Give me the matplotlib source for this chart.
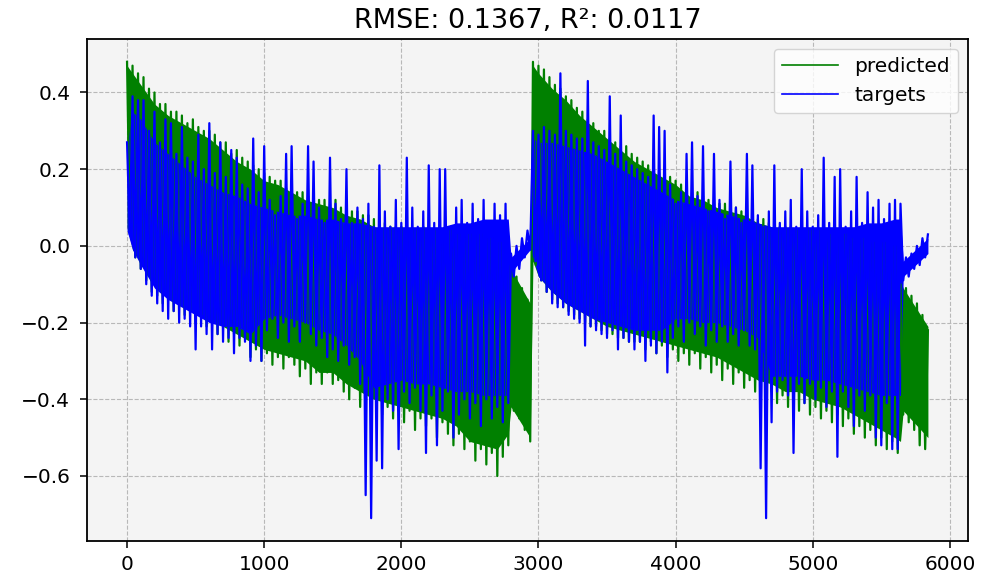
import numpy as np
import matplotlib
matplotlib.use("Agg")
import matplotlib.pyplot as plt

# values: alternating local highs / lows, one value every 20 samples
predicted = [
    # first cycle, samples 0-2940
    0.48, 0.04, 0.47, -0.03, 0.45, -0.06, 0.44, -0.09, 0.41, -0.12,
    0.40, -0.13, 0.37, -0.15, 0.37, -0.14, 0.35, -0.17, 0.35, -0.16,
    0.34, -0.18, 0.32, -0.17, 0.33, -0.20, 0.31, -0.18, 0.30, -0.21,
    0.30, -0.20, 0.29, -0.23, 0.27, -0.21, 0.27, -0.25, 0.24, -0.23,
    0.25, -0.26, 0.23, -0.24, 0.22, -0.29, 0.21, -0.27, 0.20, -0.30,
    0.19, -0.28, 0.18, -0.31, 0.17, -0.29, 0.17, -0.32, 0.15, -0.29,
    0.16, -0.31, 0.14, -0.34, 0.14, -0.32, 0.13, -0.36, 0.13, -0.33,
    0.12, -0.36, 0.12, -0.33, 0.11, -0.36, 0.12, -0.35, 0.10, -0.38,
    0.10, -0.40, 0.09, -0.37, 0.09, -0.42, 0.08, -0.39, 0.08, -0.43,
    0.07, -0.41, 0.06, -0.44, 0.06, -0.42, 0.05, -0.45, 0.05, -0.43,
    0.05, -0.46, 0.05, -0.43, 0.04, -0.48, 0.04, -0.45, 0.05, -0.47,
    0.04, -0.45, 0.04, -0.50, 0.04, -0.46, 0.03, -0.49, 0.04, -0.52,
    0.03, -0.49, 0.03, -0.53, 0.03, -0.51, 0.03, -0.56, 0.03, -0.53,
    0.03, -0.57, 0.02, -0.54, 0.02, -0.60, 0.01, -0.55, 0.00, -0.52,
    -0.05, -0.43, -0.08, -0.45, -0.11, -0.48, -0.14, -0.51,
    # second cycle, samples 2960-5840
    0.48, -0.05, 0.47, -0.09, 0.46, -0.12, 0.44, -0.14, 0.42, -0.15,
    0.41, -0.16, 0.39, -0.17, 0.38, -0.18, 0.36, -0.19, 0.35, -0.20,
    0.33, -0.21, 0.32, -0.21, 0.30, -0.22, 0.30, -0.23, 0.28, -0.23,
    0.27, -0.24, 0.26, -0.24, 0.26, -0.25, 0.24, -0.25, 0.23, -0.25,
    0.22, -0.27, 0.21, -0.25, 0.20, -0.28, 0.19, -0.26, 0.19, -0.29,
    0.18, -0.27, 0.17, -0.30, 0.16, -0.28, 0.15, -0.31, 0.14, -0.28,
    0.14, -0.32, 0.13, -0.29, 0.12, -0.33, 0.12, -0.31, 0.11, -0.35,
    0.11, -0.32, 0.10, -0.36, 0.10, -0.33, 0.09, -0.37, 0.09, -0.35,
    0.08, -0.38, 0.07, -0.36, 0.07, -0.40, 0.06, -0.38, 0.06, -0.41,
    0.05, -0.39, 0.05, -0.42, 0.05, -0.40, 0.04, -0.43, 0.04, -0.41,
    0.04, -0.44, 0.04, -0.42, 0.04, -0.45, 0.03, -0.43, 0.03, -0.46,
    0.03, -0.44, 0.03, -0.47, 0.03, -0.45, 0.02, -0.49, 0.02, -0.47,
    0.02, -0.50, 0.02, -0.48, 0.01, -0.52, 0.01, -0.50, 0.01, -0.53,
    0.01, -0.51, 0.00, -0.54, -0.10, -0.44, -0.11, -0.46, -0.13, -0.48,
    -0.15, -0.52, -0.18, -0.53, -0.22,
]

targets = [
    # first cycle, samples 0-2940
    0.27, 0.03, 0.39, -0.03, 0.38, -0.06, 0.38, -0.10, 0.30, -0.13,
    0.35, -0.15, 0.27, -0.17, 0.33, -0.19, 0.32, -0.17, 0.24, -0.20,
    0.31, -0.19, 0.23, -0.21, 0.22, -0.27, 0.29, -0.21, 0.20, -0.23,
    0.32, -0.27, 0.19, -0.23, 0.27, -0.25, 0.18, -0.24, 0.25, -0.28,
    0.23, -0.24, 0.16, -0.25, 0.15, -0.30, 0.28, -0.26, 0.14, -0.30,
    0.26, -0.22, 0.12, -0.19, 0.08, -0.24, 0.13, -0.20, 0.24, -0.25,
    0.26, -0.21, 0.07, -0.25, 0.11, -0.20, 0.26, -0.23, 0.22, -0.26,
    0.10, -0.24, 0.06, -0.29, 0.23, -0.27, 0.11, -0.30, 0.07, -0.26,
    0.20, -0.31, 0.06, -0.29, 0.10, -0.36, 0.07, -0.65, 0.11, -0.71,
    0.05, -0.56, 0.21, -0.58, 0.09, -0.40, 0.05, -0.43, 0.12, -0.53,
    0.06, -0.38, 0.23, -0.41, 0.10, -0.37, 0.05, -0.43, 0.09, -0.54,
    0.21, -0.39, 0.06, -0.52, 0.20, -0.43, 0.20, -0.38, 0.05, -0.50,
    0.10, -0.44, 0.12, -0.40, 0.06, -0.45, 0.11, -0.41, 0.07, -0.47,
    0.12, -0.40, 0.06, -0.45, 0.11, -0.42, 0.08, -0.46, 0.11, -0.41,
    -0.02, -0.08, 0.00, -0.06, 0.02, -0.03, 0.04, -0.01,
    # second cycle, samples 2960-5840
    0.30, -0.04, 0.29, -0.09, 0.31, -0.12, 0.30, -0.15, 0.29, -0.16,
    0.45, -0.16, 0.30, -0.18, 0.29, -0.19, 0.28, -0.20, 0.28, -0.26,
    0.43, -0.21, 0.27, -0.22, 0.26, -0.23, 0.25, -0.24, 0.39, -0.22,
    0.24, -0.27, 0.34, -0.24, 0.22, -0.25, 0.21, -0.27, 0.20, -0.25,
    0.19, -0.30, 0.18, -0.26, 0.34, -0.28, 0.31, -0.25, 0.30, -0.33,
    0.16, -0.24, 0.11, -0.21, 0.14, -0.25, 0.24, -0.20, 0.27, -0.23,
    0.13, -0.21, 0.26, -0.26, 0.09, -0.22, 0.24, -0.25, 0.12, -0.21,
    0.07, -0.25, 0.22, -0.23, 0.10, -0.26, 0.06, -0.22, 0.24, -0.26,
    0.21, -0.27, 0.08, -0.58, 0.05, -0.71, 0.09, -0.46, 0.21, -0.38,
    0.06, -0.35, 0.09, -0.39, 0.12, -0.54, 0.05, -0.36, 0.20, -0.41,
    0.09, -0.36, 0.05, -0.40, 0.08, -0.37, 0.23, -0.42, 0.06, -0.38,
    0.18, -0.55, 0.20, -0.38, 0.05, -0.42, 0.09, -0.47, 0.18, -0.39,
    0.06, -0.43, 0.14, -0.39, 0.10, -0.50, 0.12, -0.52, 0.07, -0.41,
    0.11, -0.53, 0.12, -0.53, 0.11, -0.09, -0.03, -0.08, -0.02, -0.06,
    0.00, -0.05, 0.02, -0.03, 0.03,
]

# solid core of each trace (between the ragged edges), read at these samples
env_idx = [0, 40, 100, 200, 300, 400, 500, 600, 700, 800, 900, 1000, 1100, 1200,
           1300, 1400, 1500, 1600, 1700, 1800, 1900, 2000, 2100, 2200, 2300, 2400,
           2500, 2600, 2700, 2780, 2800, 2940,
           2960, 3000, 3100, 3200, 3300, 3400, 3500, 3600, 3700, 3800, 3900, 4000,
           4100, 4200, 4300, 4400, 4500, 4600, 4700, 4800, 4900, 5000, 5100, 5200,
           5300, 5400, 5500, 5600, 5640, 5660, 5840]

pred_top = [0.47, 0.45, 0.42, 0.37, 0.34, 0.32, 0.30, 0.28, 0.25, 0.22, 0.20, 0.17, 0.16, 0.14,
            0.12, 0.11, 0.10, 0.08, 0.07, 0.05, 0.04, 0.03, 0.03, 0.02, 0.02, 0.02,
            0.01, 0.01, 0.00, -0.01, -0.06, -0.15,
            0.47, 0.45, 0.41, 0.38, 0.34, 0.31, 0.28, 0.25, 0.22, 0.20, 0.18, 0.16,
            0.13, 0.12, 0.10, 0.09, 0.08, 0.06, 0.05, 0.04, 0.03, 0.03, 0.02, 0.02,
            0.01, 0.01, 0.00, -0.01, -0.09, -0.11, -0.21]
pred_bot = [0.05, -0.01, -0.04, -0.10, -0.13, -0.15, -0.17, -0.19, -0.21, -0.23, -0.25, -0.27, -0.28, -0.29,
            -0.30, -0.33, -0.33, -0.36, -0.38, -0.40, -0.41, -0.42, -0.43, -0.44, -0.45, -0.47,
            -0.51, -0.52, -0.53, -0.49, -0.42, -0.50,
            -0.04, -0.08, -0.12, -0.15, -0.17, -0.19, -0.21, -0.22, -0.23, -0.24, -0.25, -0.26,
            -0.27, -0.28, -0.29, -0.31, -0.33, -0.35, -0.36, -0.38, -0.38, -0.40, -0.41, -0.42,
            -0.44, -0.46, -0.48, -0.50, -0.51, -0.43, -0.50]
tgt_top = [0.26, 0.35, 0.33, 0.27, 0.24, 0.21, 0.18, 0.16, 0.14, 0.13, 0.11, 0.10, 0.09, 0.08,
           0.08, 0.07, 0.07, 0.06, 0.06, 0.05, 0.05, 0.05, 0.05, 0.05, 0.05, 0.06,
           0.06, 0.07, 0.07, 0.07, -0.03, 0.02,
           0.28, 0.27, 0.27, 0.26, 0.25, 0.24, 0.22, 0.20, 0.18, 0.16, 0.14, 0.12,
           0.11, 0.10, 0.09, 0.08, 0.07, 0.06, 0.05, 0.05, 0.05, 0.05, 0.05, 0.05,
           0.05, 0.06, 0.06, 0.07, 0.07, -0.04, 0.02]
tgt_bot = [0.04, -0.01, -0.05, -0.11, -0.14, -0.16, -0.18, -0.20, -0.21, -0.21, -0.23, -0.19, -0.18, -0.19,
           -0.20, -0.22, -0.23, -0.26, -0.30, -0.37, -0.36, -0.35, -0.36, -0.36, -0.37, -0.38,
           -0.38, -0.39, -0.39, -0.39, -0.07, -0.01,
           -0.03, -0.08, -0.12, -0.15, -0.17, -0.19, -0.20, -0.21, -0.22, -0.22, -0.22, -0.19,
           -0.19, -0.20, -0.20, -0.21, -0.22, -0.24, -0.34, -0.34, -0.34, -0.35, -0.35, -0.36,
           -0.37, -0.38, -0.39, -0.39, -0.39, -0.08, -0.02]

rmse = 0.1367
r2 = 0.0117
step = 20  # samples between read values

x = np.arange(len(predicted)) * step

fig = plt.figure(figsize=(9.82, 5.76), dpi=100)
ax = fig.add_axes([0.0886, 0.0608, 0.8971, 0.8715])
ax.set_facecolor('#f4f4f4')
ax.set_axisbelow(True)

ax.fill_between(env_idx, pred_bot, pred_top, color='green', linewidth=0)
ax.plot(x, predicted, color='green', linewidth=1.6, label='predicted')
ax.fill_between(env_idx, tgt_bot, tgt_top, color='blue', linewidth=0)
ax.plot(x, targets, color='blue', linewidth=1.6, label='targets')

ax.set_title(f'RMSE: {rmse}, R²: {r2}', fontsize=19.5, pad=8)
ax.set_xticks(np.arange(0, 7000, 1000))
ax.set_yticks([-0.6, -0.4, -0.2, 0.0, 0.2, 0.4])
ax.tick_params(labelsize=14.5, length=5, width=1.1)
ax.tick_params(axis='y', pad=7)
ax.tick_params(axis='x', pad=5)
for s in ax.spines.values():
    s.set_linewidth(1.3)
ax.grid(True, linestyle='--', color='#b8b8b8', linewidth=0.8)
leg = ax.legend(loc='upper right', fontsize=14.5, handlelength=2.8, handletextpad=0.8)
for h in leg.get_lines():
    h.set_linewidth(1.2)

plt.savefig('out.png', dpi=100)
